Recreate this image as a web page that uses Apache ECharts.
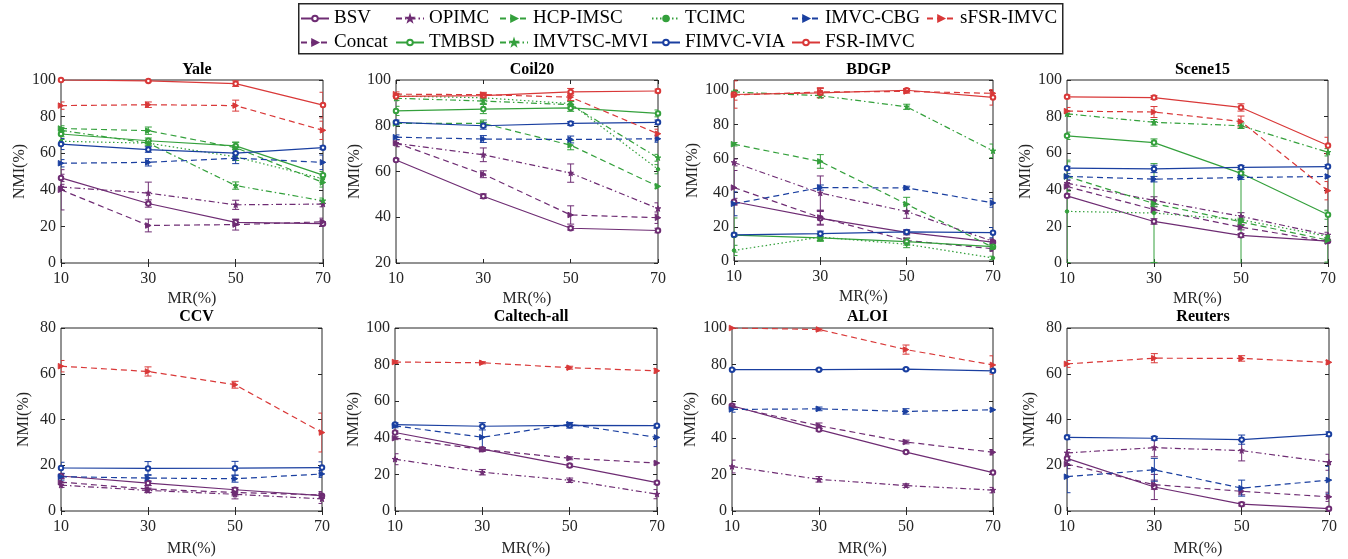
<!DOCTYPE html>
<html>
<head>
<meta charset="utf-8">
<script src="https://cdn.jsdelivr.net/npm/echarts@6/dist/echarts.min.js"></script>
<style>
  html, body { margin: 0; padding: 0; background: #fff; }
  #chart { width: 1348px; height: 559px; }
</style>
</head>
<body>
<div id="chart"></div>
<script>
// Missing rate ticks shared by every panel
const mrTicks = ['10', '30', '50', '70'];

// Method order (rows of every mean / std table below)
const methods = ['BSV', 'Concat', 'OPIMC', 'TMBSD', 'HCP-IMSC', 'IMVTSC-MVI', 'TCIMC',
                 'FIMVC-VIA', 'IMVC-CBG', 'FSR-IMVC', 'sFSR-IMVC'];

// NMI (%) mean and std per dataset, one row per method (null = not reported)
const yaleMean = [
  [46.5, 32.5, 22.2, 21.5], [40.0, 20.5, 21.0, 22.5], [41.5, 38.2, 31.8, 32.2],
  [70.5, 66.8, 64.0, 48.0], [73.5, 72.3, 63.0, 44.0], [72.5, 65.5, 42.3, 34.0],
  [66.5, 65.5, 58.0, 46.0], [65.0, 62.0, 60.0, 63.0], [54.5, 55.0, 57.3, 55.0],
  [100.0, 99.5, 98.0, 86.3], [86.0, 86.5, 86.0, 72.5]];
const yaleStd = [
  [2, 2, 1.5, 1.5], [11, 3.5, 3, 2], [1.5, 6, 2.5, 1.5],
  [1.5, 1.5, 2, 2], [1.5, 2, 3, 2.5], [1.5, 1.5, 2, 1.5],
  [1, 1, 2, 2], [3, 1.5, 3, 1], [2, 2, 3, 4],
  [0.3, 0.5, 1.5, 7], [2, 1.5, 3, 5]];

const coil20Mean = [
  [65.0, 49.2, 35.2, 34.2], [72.5, 58.8, 41.0, 39.8], [72.3, 67.3, 59.3, 43.8],
  [86.5, 87.3, 87.8, 85.4], [81.0, 81.0, 71.5, 53.5], [92.0, 90.8, 89.2, 66.0],
  [93.0, 92.2, 89.7, 61.0], [81.5, 80.0, 81.0, 81.5], [75.0, 74.2, 74.0, 74.3],
  [92.8, 93.2, 94.8, 95.2], [93.8, 93.6, 92.5, 76.5]];
const coil20Std = [
  [0.5, 1, 0.8, 1], [1.5, 1.5, 4, 2.5], [1.5, 3, 4, 2.5],
  [2, 2, 1.5, 1.5], [1, 1.5, 2, 1], [1, 1, 1.5, 1.5],
  [1, 1, 1, 2], [1, 1.5, 0.8, 1], [1, 1.5, 1.5, 1.5],
  [1, 1, 1.5, 0.8], [1, 1, 1.5, 2]];

const bdgpMean = [
  [34.7, 25.0, 16.8, 11.0], [43.0, 25.5, 12.0, 7.2], [57.7, 39.8, 29.0, 11.5],
  [15.2, 13.5, 11.3, 8.4], [68.4, 58.3, 33.3, 8.0], [99.0, 96.8, 90.3, 64.5],
  [6.2, 14.0, 9.8, 1.8], [15.3, 16.0, 17.0, 16.6], [33.5, 43.0, 42.8, 34.0],
  [97.5, 98.5, 100.0, 95.8], [97.2, 99.0, 99.3, 98.2]];
const bdgpStd = [
  [2, 4, 1.5, 1.5], [10, 4, 1.5, 1.5], [2, 10, 4, 1.5],
  [10, 2, 2, 2], [1, 4, 4, 1.5], [1, 1, 1.5, 4],
  [3, 2, 2, 1], [1, 1.5, 1, 3], [7, 1.5, 1, 2.5],
  [8, 3, 1, 4.5], [3, 2, 1, 2]];

const scene15Mean = [
  [36.7, 22.7, 15.1, 12.0], [41.8, 29.2, 19.6, 11.7], [43.6, 34.2, 25.5, 15.3],
  [69.5, 65.8, 49.0, 26.4], [47.3, 32.5, 22.5, 12.5], [81.5, 76.9, 75.0, 60.5],
  [28.2, 27.3, 23.6, 14.5], [51.8, 51.4, 52.3, 52.7], [47.3, 45.8, 46.7, 47.3],
  [90.8, 90.4, 85.0, 64.2], [83.0, 82.5, 77.3, 39.5]];
const scene15Std = [
  [1, 1.5, 1, 1], [1.5, 1.5, 1.5, 1], [1.5, 2, 2, 1.5],
  [2, 2, 2, 2.5], [8, 1.5, 2, 1.5], [1.5, 1.5, 1.5, 2],
  [28, 27, 26, 14], [1, 2, 1, 1], [1.5, 1.5, 1, 1],
  [1, 1, 2, 4.5], [2, 3, 3, 5]];

const ccvMean = [
  [15.3, 12.2, 9.3, 6.7], [12.6, 9.6, 8.1, 7.0], [11.3, 9.0, 7.3, 5.3],
  null, null, null, null,
  [18.8, 18.6, 18.7, 19.0], [15.0, 14.4, 14.1, 16.2],
  null, [63.3, 61.0, 55.2, 34.3]];
const ccvStd = [
  [1, 1, 1, 1], [1.5, 1.5, 1.5, 1.5], [1, 1, 2, 2],
  null, null, null, null,
  [2.5, 3, 3, 2.5], [1.5, 1.5, 1.5, 1.5],
  null, [2.5, 2, 1.5, 8.5]];

const caltechMean = [
  [42.9, 33.8, 24.8, 15.5], [39.8, 33.6, 28.8, 26.2], [28.3, 21.2, 16.8, 9.2],
  null, null, null, null,
  [47.2, 46.3, 46.8, 46.6], [46.5, 40.3, 47.4, 40.2],
  null, [81.4, 81.0, 78.3, 76.6]];
const caltechStd = [
  [0.8, 0.8, 0.8, 0.8], [0.8, 1, 0.8, 1], [3, 1.5, 1.2, 2.5],
  null, null, null, null,
  [1, 2, 1.5, 0.8], [1, 6, 1, 5],
  null, [0.8, 0.6, 0.8, 1.2]];

const aloiMean = [
  [57.5, 44.5, 32.2, 21.0], [57.0, 46.6, 37.7, 32.1], [24.3, 17.3, 13.9, 11.4],
  null, null, null, null,
  [77.2, 77.2, 77.5, 76.6], [55.5, 55.8, 54.4, 55.3],
  null, [100.0, 99.2, 88.2, 79.8]];
const aloiStd = [
  [0.5, 0.8, 0.5, 0.8], [1.5, 1.5, 1, 1.5], [3.5, 1.5, 1, 1.5],
  null, null, null, null,
  [0.5, 0.5, 0.5, 1], [1.5, 1, 1.5, 0.8],
  null, [0.3, 0.8, 2.5, 5]];

const reutersMean = [
  [23.0, 10.5, 3.0, 1.0], [20.5, 11.5, 8.6, 6.2], [25.4, 27.7, 26.4, 21.3],
  null, null, null, null,
  [32.2, 31.8, 31.2, 33.6], [15.0, 18.0, 10.0, 13.5],
  null, [64.3, 66.8, 66.7, 65.0]];
const reutersStd = [
  [1, 5.5, 0.8, 0.5], [2, 2, 1.5, 2], [1.5, 4, 4.5, 3.5],
  null, null, null, null,
  [1, 0.8, 2, 1], [7, 5, 3.5, 6],
  null, [1.5, 2, 1.2, 0.8]];

// Panels: title, data tables and y-axis range
const panels = [
  { title: 'Yale',        mean: yaleMean,    std: yaleStd,    yMin: 0,  yMax: 100 },
  { title: 'Coil20',      mean: coil20Mean,  std: coil20Std,  yMin: 20, yMax: 100 },
  { title: 'BDGP',        mean: bdgpMean,    std: bdgpStd,    yMin: 0,  yMax: 106 },
  { title: 'Scene15',     mean: scene15Mean, std: scene15Std, yMin: 0,  yMax: 100 },
  { title: 'CCV',         mean: ccvMean,     std: ccvStd,     yMin: 0,  yMax: 80 },
  { title: 'Caltech-all', mean: caltechMean, std: caltechStd, yMin: 0,  yMax: 100 },
  { title: 'ALOI',        mean: aloiMean,    std: aloiStd,    yMin: 0,  yMax: 100 },
  { title: 'Reuters',     mean: reutersMean, std: reutersStd, yMin: 0,  yMax: 80 }
];

// Plot-area rectangles (left, top, width, height) in pixels
const gridBoxes = [
  [61, 80, 262, 183], [396, 80, 262, 183], [734, 80, 259, 181], [1067, 80, 261, 183],
  [61, 328, 261, 183], [395, 328, 262, 183], [732, 328, 261, 183], [1067, 328, 262, 183]
];

// Styling per method
const PURPLE = '#6e2c73', GREEN = '#34a03c', BLUE = '#1a3fa0', RED = '#d93838';
const STAR = 'path://M0,-5L1.2,-1.6L5,-1.6L2,0.8L3.1,4.5L0,2.3L-3.1,4.5L-2,0.8L-5,-1.6L-1.2,-1.6Z';
const DASH = [6, 4], DASHDOT = [6, 3, 1.5, 3], DOT = [1.5, 2.5];
const methodStyle = {
  'BSV':        { color: PURPLE, type: 'solid', symbol: 'emptyCircle', size: 4.5 },
  'Concat':     { color: PURPLE, type: DASH,    symbol: 'triangle', rotate: -90, size: 5.5 },
  'OPIMC':      { color: PURPLE, type: DASHDOT, symbol: STAR, size: 5.5 },
  'TMBSD':      { color: GREEN,  type: 'solid', symbol: 'emptyCircle', size: 4.5 },
  'HCP-IMSC':   { color: GREEN,  type: DASH,    symbol: 'triangle', rotate: -90, size: 5.5 },
  'IMVTSC-MVI': { color: GREEN,  type: DASHDOT, symbol: STAR, size: 5.5 },
  'TCIMC':      { color: GREEN,  type: DOT,     symbol: 'circle', size: 3.5 },
  'FIMVC-VIA':  { color: BLUE,   type: 'solid', symbol: 'emptyCircle', size: 4.5 },
  'IMVC-CBG':   { color: BLUE,   type: DASH,    symbol: 'triangle', rotate: -90, size: 5.5 },
  'FSR-IMVC':   { color: RED,    type: 'solid', symbol: 'emptyCircle', size: 4.5 },
  'sFSR-IMVC':  { color: RED,    type: DASH,    symbol: 'triangle', rotate: -90, size: 5.5 }
};

const INK = '#262626';
const FONT = "'Liberation Serif', 'Times New Roman', serif";

// Vertical error bar with caps
function renderErrorBar(params, api) {
  const xi = api.value(0);
  const top = api.coord([xi, api.value(2)]);
  const bot = api.coord([xi, api.value(1)]);
  const w = 3.5;
  const style = { stroke: api.visual('color'), lineWidth: 1, fill: null };
  return {
    type: 'group',
    children: [
      { type: 'line', shape: { x1: top[0], y1: top[1], x2: bot[0], y2: bot[1] }, style },
      { type: 'line', shape: { x1: top[0] - w, y1: top[1], x2: top[0] + w, y2: top[1] }, style },
      { type: 'line', shape: { x1: bot[0] - w, y1: bot[1], x2: bot[0] + w, y2: bot[1] }, style }
    ]
  };
}

const grid = [], xAxis = [], yAxis = [], title = [], lineSeries = [], errSeries = [];

panels.forEach((p, g) => {
  const [left, top, width, height] = gridBoxes[g];
  grid.push({ left, top, width, height, show: true, borderColor: INK, borderWidth: 1,
              backgroundColor: 'transparent', containLabel: false });

  title.push({
    text: p.title, left: left + width / 2, top: g < 4 ? 57 : 304, textAlign: 'center',
    textStyle: { fontFamily: FONT, fontWeight: 'bold', fontSize: 16, color: '#000' }
  });

  const tickCommon = { show: true, inside: true, length: 4, lineStyle: { color: INK, width: 1 } };
  // bottom axis with labels, top axis for mirrored ticks
  xAxis.push({
    gridIndex: g, type: 'category', data: mrTicks, boundaryGap: false, position: 'bottom',
    name: 'MR(%)', nameLocation: 'middle', nameGap: g < 4 ? 28 : 30,
    nameTextStyle: { fontFamily: FONT, fontSize: 16, color: INK },
    axisLine: { show: false }, axisTick: tickCommon, splitLine: { show: false },
    axisLabel: { fontFamily: FONT, fontSize: 16, color: INK, margin: 8, interval: 0 }
  });
  xAxis.push({
    gridIndex: g, type: 'category', data: mrTicks, boundaryGap: false, position: 'top',
    axisLine: { show: false }, axisTick: tickCommon, axisLabel: { show: false }, splitLine: { show: false }
  });
  // left axis with labels, right axis for mirrored ticks
  yAxis.push({
    gridIndex: g, type: 'value', min: p.yMin, max: p.yMax, interval: 20, position: 'left',
    name: 'NMI(%)', nameLocation: 'middle', nameGap: 29,
    nameTextStyle: { fontFamily: FONT, fontSize: 16, color: INK },
    axisLine: { show: false }, axisTick: tickCommon, splitLine: { show: false },
    axisLabel: { fontFamily: FONT, fontSize: 16, color: INK, margin: 5,
                 formatter: v => (v % 20 === 0 ? String(v) : '') }
  });
  yAxis.push({
    gridIndex: g, type: 'value', min: p.yMin, max: p.yMax, interval: 20, position: 'right',
    axisLine: { show: false }, axisTick: tickCommon, axisLabel: { show: false }, splitLine: { show: false }
  });

  methods.forEach((m, k) => {
    const mean = p.mean[k];
    if (!mean) return;
    const sd = p.std[k];
    const st = methodStyle[m];
    lineSeries.push({
      name: m, type: 'line', xAxisIndex: 2 * g, yAxisIndex: 2 * g,
      data: mean, symbol: st.symbol, symbolSize: st.size, symbolRotate: st.rotate || 0,
      showAllSymbol: true, animation: false, z: 3,
      lineStyle: { color: st.color, width: 1.2, type: st.type },
      itemStyle: { color: st.color, borderColor: st.color, borderWidth: 1 }
    });
    errSeries.push({
      name: m, type: 'custom', xAxisIndex: 2 * g, yAxisIndex: 2 * g,
      renderItem: renderErrorBar, clip: true, animation: false, z: 2,
      itemStyle: { color: st.color },
      encode: { x: 0, y: [1, 2] },
      data: mean.map((v, i) => [i, v - sd[i], v + sd[i]])
    });
  });
});

// Legend laid out as two rows, column by column
const legendCols = [
  { left: 300, names: ['BSV', 'Concat'] },
  { left: 395, names: ['OPIMC', 'TMBSD'] },
  { left: 499, names: ['HCP-IMSC', 'IMVTSC-MVI'] },
  { left: 651, names: ['TCIMC', 'FIMVC-VIA'] },
  { left: 791, names: ['IMVC-CBG', 'FSR-IMVC'] },
  { left: 926, names: ['sFSR-IMVC'] }
];
const legend = legendCols.map(c => ({
  orient: 'vertical', left: c.left, top: 9, itemGap: 5, itemWidth: 28, itemHeight: 7,
  data: c.names, padding: 0, selectedMode: false,
  textStyle: { fontFamily: FONT, fontSize: 19, lineHeight: 19, color: '#000' }
}));

const chart = echarts.init(document.getElementById('chart'), null, { renderer: 'canvas' });
chart.setOption({
  backgroundColor: '#fff',
  animation: false,
  title, grid, xAxis, yAxis, legend,
  series: lineSeries.concat(errSeries),
  graphic: [{
    type: 'rect', left: 298, top: 3, z: -1,
    shape: { x: 0, y: 0, width: 764, height: 50 },
    style: { fill: '#fff', stroke: INK, lineWidth: 1.5 }
  }]
});
</script>
</body>
</html>
